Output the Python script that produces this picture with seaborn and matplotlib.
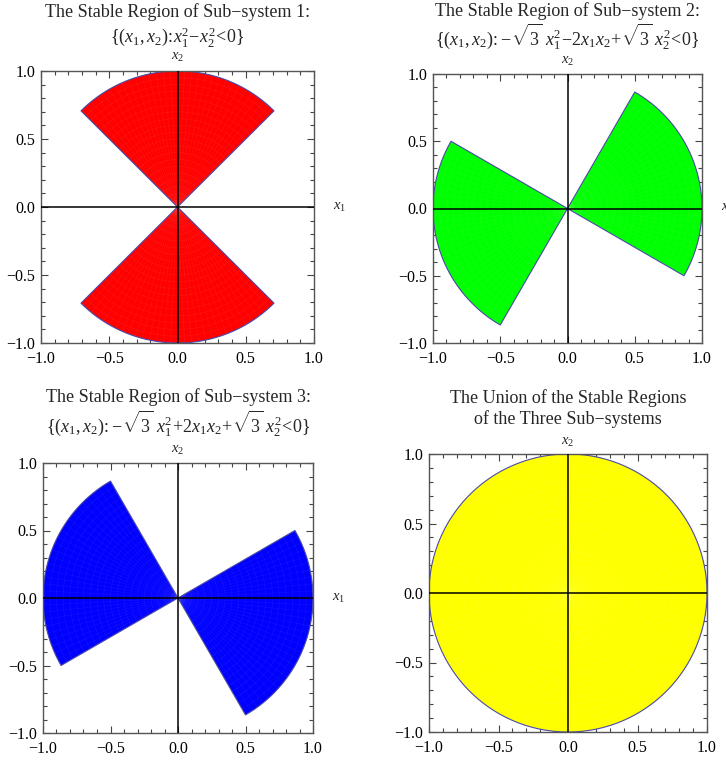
import numpy as np
import matplotlib
matplotlib.use("Agg")
import matplotlib.pyplot as plt
import seaborn as sns
import pandas as pd
from matplotlib.ticker import FixedLocator, MultipleLocator, FixedFormatter

sns.set_theme(style="ticks")
plt.rcParams["font.family"] = ["Liberation Serif", "DejaVu Serif"]
plt.rcParams["mathtext.fontset"] = "custom"
plt.rcParams["mathtext.rm"] = "Liberation Serif"
plt.rcParams["mathtext.it"] = "Liberation Serif:italic"
plt.rcParams["mathtext.bf"] = "Liberation Serif:bold"

# ---------------- data ----------------
title_line1 = [
    "The Stable Region of Sub\u2212system 1:",
    "The Stable Region of Sub\u2212system 2:",
    "The Stable Region of Sub\u2212system 3:",
    "The Union of the Stable Regions",
]
title_line2 = [
    r"$\{(x_1,x_2)\!:\!x_1^2\!-\!x_2^2\!<\!0\}$",
    r"$\{(x_1,x_2)\!:\!-\!\sqrt{3}\ x_1^2\!-\!2x_1x_2\!+\!\sqrt{3}\ x_2^2\!<\!0\}$",
    r"$\{(x_1,x_2)\!:\!-\!\sqrt{3}\ x_1^2\!+\!2x_1x_2\!+\!\sqrt{3}\ x_2^2\!<\!0\}$",
    "of the Three Sub\u2212systems",
]
# stable sectors (degrees) of each sub-system
sector_starts = [[45, 225], [-30, 150], [120, -60], [0]]
sector_ends = [[135, 315], [60, 240], [210, 30], [360]]
fill_colors = ["#ff0000", "#00ff00", "#0000ff", "#ffff00"]
radius = 1.0
tick_values = [-1.0, -0.5, 0.0, 0.5, 1.0]
tick_labels = ["\u22121.0", "\u22120.5", "0.0", "0.5", "1.0"]

# ---------------- layout (pixels) ----------------
W, H = 726, 761
boxes = [(41, 71, 273, 272), (433, 74, 269, 269), (43, 463, 270, 270), (429, 454, 278, 278)]
# offsets above axes top: (line1, line2, x2 label)
text_offsets = [(59, 34, 14), (63, 37, 13), (66, 39, 13), (56, 35, 12)]

fig = plt.figure(figsize=(W / 100, H / 100), dpi=100)
edge_col = "#4a4aa8"

for i in range(4):
    x, y, w, h = boxes[i]
    ax = fig.add_axes([x / W, 1 - (y + h) / H, w / W, h / H])
    for a0, a1 in zip(sector_starts[i], sector_ends[i]):
        th = np.deg2rad(np.linspace(a0, a1, 200))
        if a1 - a0 >= 360:
            px = radius * np.cos(th)
            py = radius * np.sin(th)
        else:
            px = np.concatenate([[0], radius * np.cos(th), [0]])
            py = np.concatenate([[0], radius * np.sin(th), [0]])
        ax.fill(px, py, color=fill_colors[i], lw=0, zorder=1)
        # faint mesh texture
        for rr in np.arange(0.05, 1.0, 0.05):
            ax.plot(rr * np.cos(th), rr * np.sin(th), color="white", lw=0.4, alpha=0.08, zorder=1.5)
        for aa in np.arange(a0, a1, 3.0):
            t = np.deg2rad(aa)
            ax.plot([0, radius * np.cos(t)], [0, radius * np.sin(t)], color="white", lw=0.4, alpha=0.07, zorder=1.5)
        df = pd.DataFrame({"x": px, "y": py})
        sns.lineplot(data=df, x="x", y="y", sort=False, estimator=None, color=edge_col, lw=0.8, ax=ax, zorder=2)
    ax.axhline(0, color="black", lw=1.1, zorder=3)
    ax.axvline(0, color="black", lw=1.1, zorder=3)
    ax.set_xlim(-1, 1)
    ax.set_ylim(-1, 1)
    ax.set_xlabel("")
    ax.set_ylabel("")
    ax.xaxis.set_major_locator(FixedLocator(tick_values))
    ax.yaxis.set_major_locator(FixedLocator(tick_values))
    ax.xaxis.set_major_formatter(FixedFormatter(tick_labels))
    ax.yaxis.set_major_formatter(FixedFormatter(tick_labels))
    ax.xaxis.set_minor_locator(MultipleLocator(0.1))
    ax.yaxis.set_minor_locator(MultipleLocator(0.1))
    ax.tick_params(which="both", direction="in", top=True, right=True, color="#444444", width=0.8)
    ax.tick_params(which="major", length=5, labelsize=11.5, labelcolor="black")
    ax.tick_params(axis="x", which="major", pad=6)
    ax.tick_params(axis="y", which="major", pad=4)
    ax.tick_params(which="minor", length=3)
    for s in ax.spines.values():
        s.set_color("#555555")
        s.set_linewidth(1.0)
    l1, l2, lx = text_offsets[i]
    ax.annotate(title_line1[i], (0.5, 1), xycoords="axes fraction", xytext=(0, l1),
                textcoords="offset pixels", ha="center", va="center", fontsize=13)
    ax.annotate(title_line2[i], (0.5, 1), xycoords="axes fraction", xytext=(0, l2),
                textcoords="offset pixels", ha="center", va="center", fontsize=13)
    ax.annotate(r"$x_2$", (0.5, 1), xycoords="axes fraction", xytext=(0, lx),
                textcoords="offset pixels", ha="center", va="center", fontsize=10.5)
    ax.annotate(r"$x_1$", (1, 0.5), xycoords="axes fraction", xytext=(26, 0),
                textcoords="offset pixels", ha="center", va="center", fontsize=10.5,
                annotation_clip=False)

fig.savefig("out.png", dpi=100)
